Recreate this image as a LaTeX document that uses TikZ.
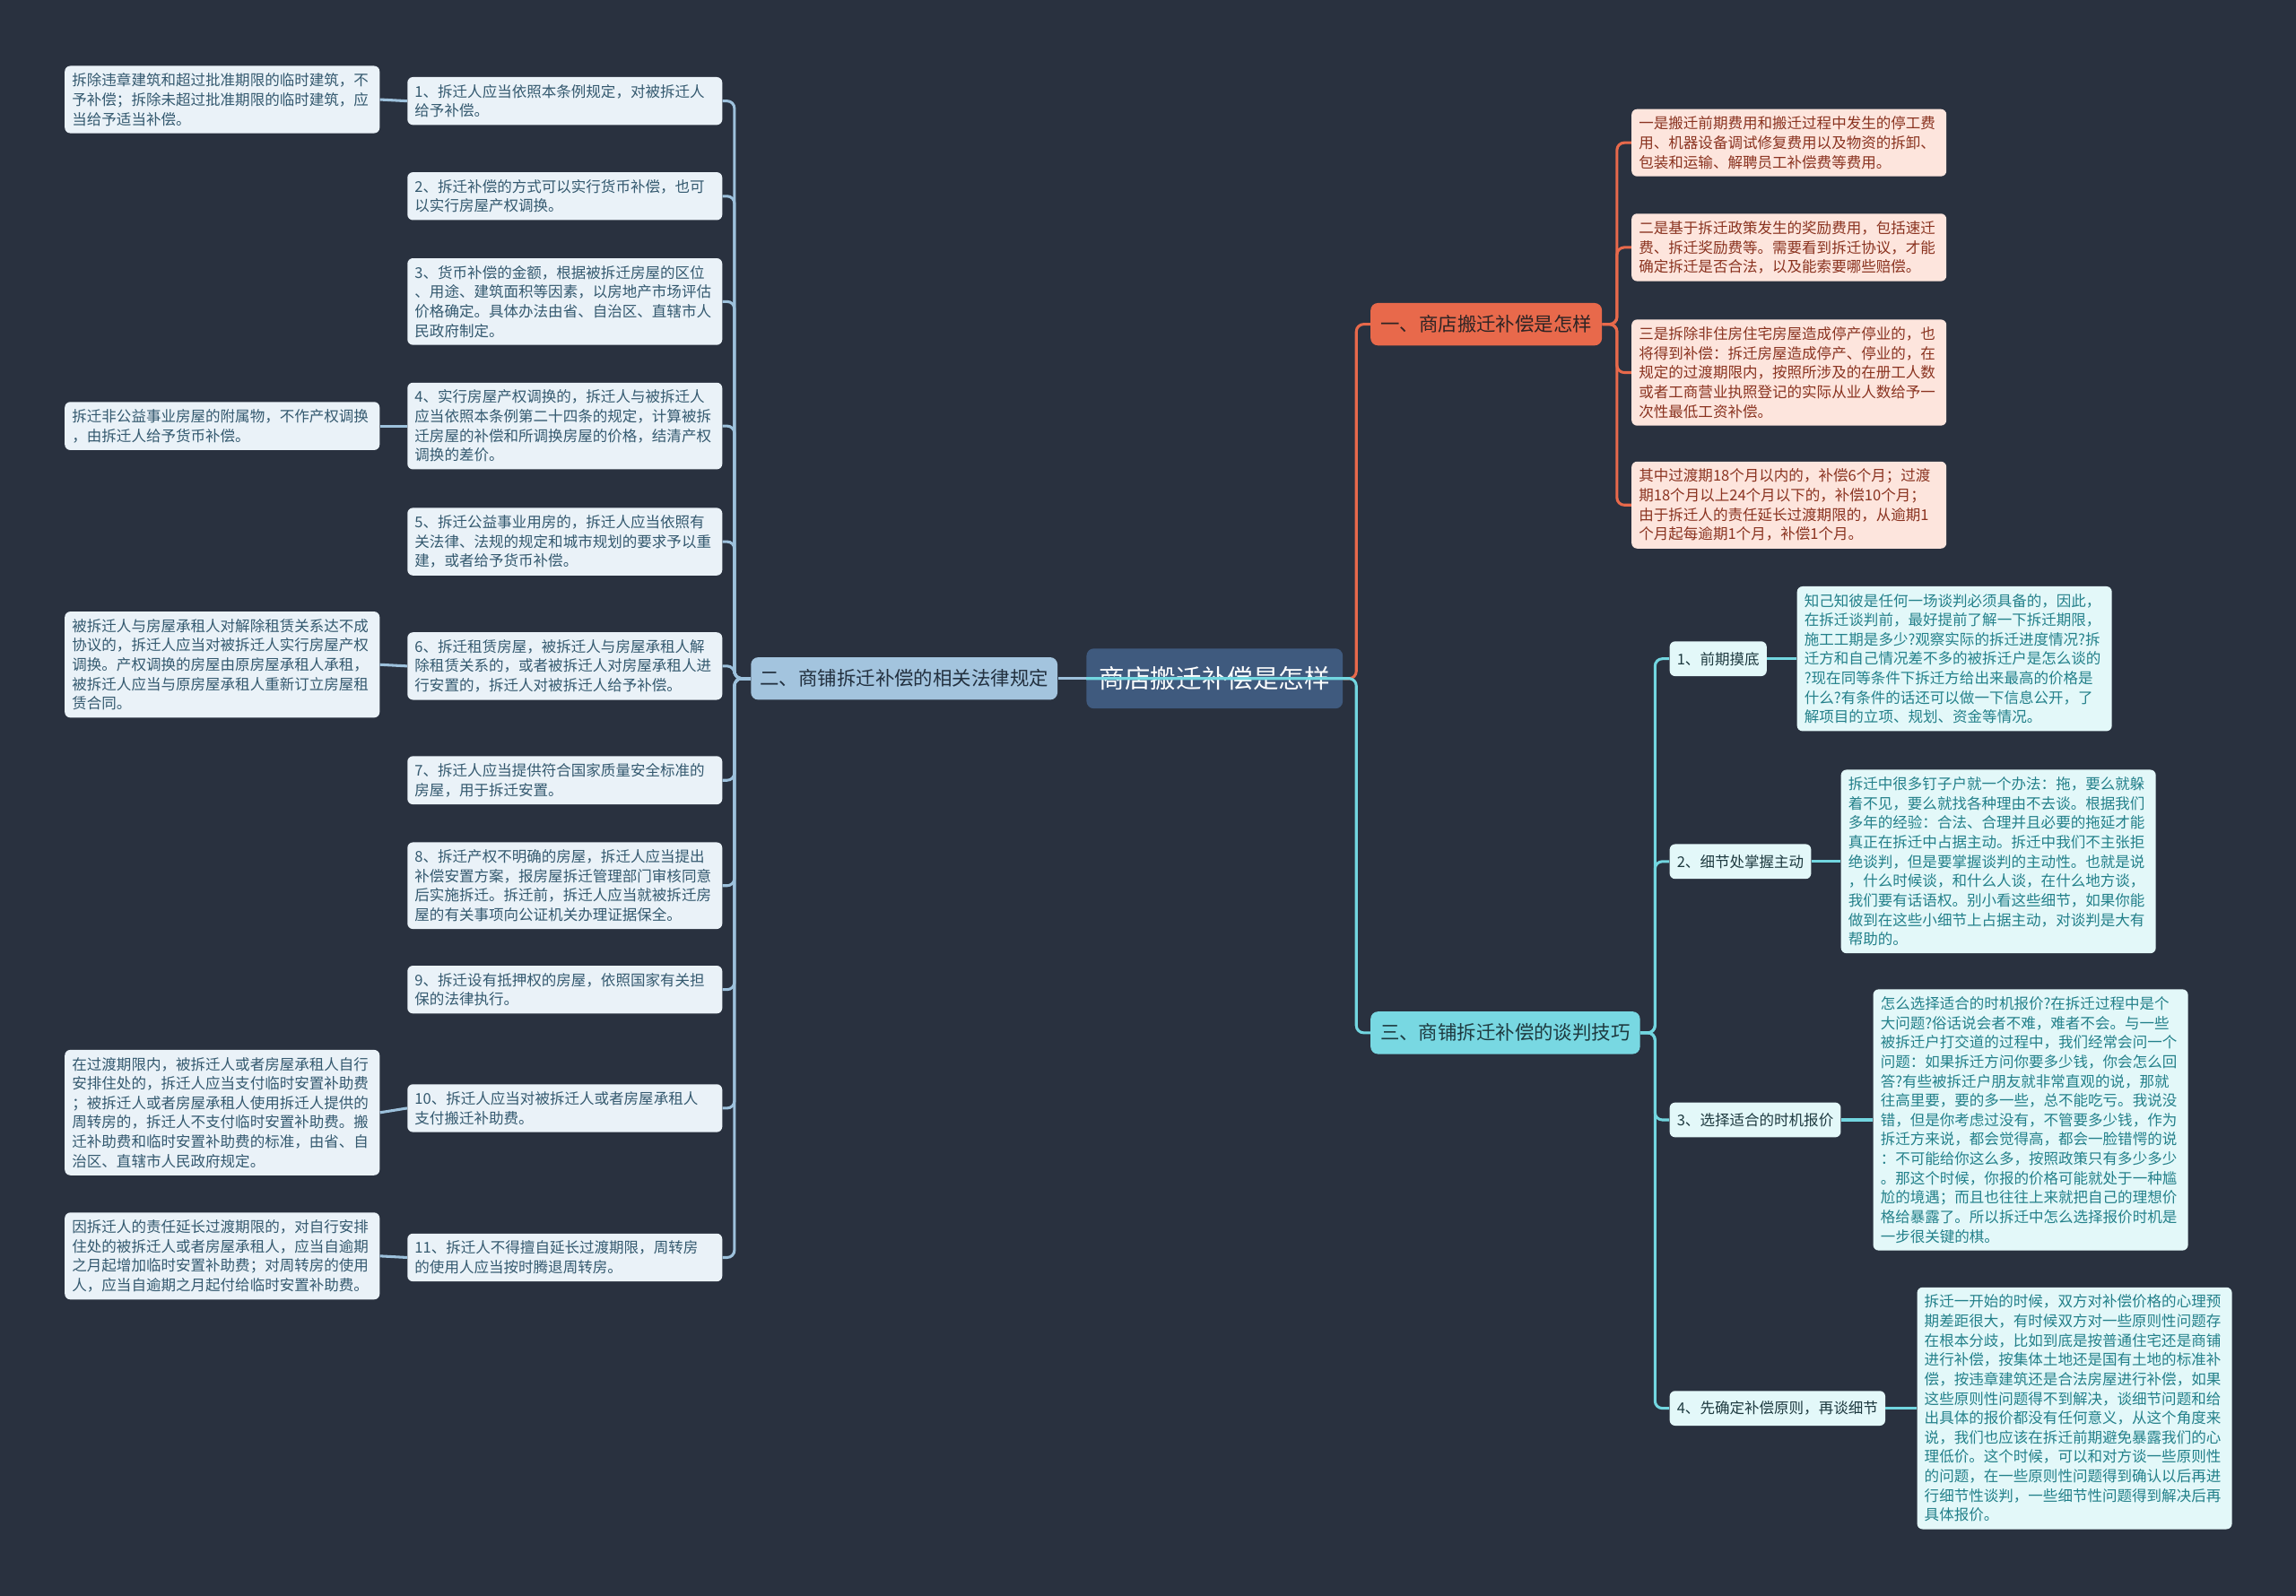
\documentclass[tikz,border=0pt]{standalone}
\usepackage{fontspec}
\setmainfont{Noto Sans CJK SC}

\definecolor{bgcol}{HTML}{29313F}
\definecolor{rootfill}{HTML}{3F5A7E}
\definecolor{lawmain}{HTML}{A3C4DE}
\definecolor{lawdark}{HTML}{22303F}
\definecolor{lawfill}{HTML}{EAF2F8}
\definecolor{lawtext}{HTML}{34596F}
\definecolor{lawline}{HTML}{9DC1DC}
\definecolor{costmain}{HTML}{E8694B}
\definecolor{costdark}{HTML}{2E2424}
\definecolor{costfill}{HTML}{FDE5DD}
\definecolor{costtext}{HTML}{8A3320}
\definecolor{tipmain}{HTML}{78D8E2}
\definecolor{tipdark}{HTML}{1E3A40}
\definecolor{tipfill}{HTML}{E3F8F9}
\definecolor{tiptext}{HTML}{23808A}
\definecolor{tipline}{HTML}{72D6E0}

\begin{document}
\begin{tikzpicture}[
    x=0.8pt, y=-0.8pt,
    font=\fontsize{8.1}{10.6}\selectfont,
    leaf/.style={rounded corners=3pt,align=left,text width=164pt,inner xsep=4pt,inner ysep=4pt,anchor=west},
    lawleaf/.style={leaf,fill=lawfill,text=lawtext},
    costleaf/.style={leaf,fill=costfill,text=costtext},
    tipleaf/.style={leaf,fill=tipfill,text=tiptext},
    topic/.style={rounded corners=4pt,font=\fontsize{10.5}{12}\selectfont,minimum height=23.2pt,inner xsep=5pt},
    tipbox/.style={rounded corners=3pt,fill=tipfill,text=tipdark,minimum height=19pt,inner xsep=4pt,anchor=west},
    lline/.style={draw=lawline,line width=1.5pt,rounded corners=4pt},
    oline/.style={draw=costmain,line width=1.5pt,rounded corners=4pt},
    cline/.style={draw=tipline,line width=1.5pt,rounded corners=4pt}
]
\fill[bgcol] (0,0) rectangle (1568,1090);
\path[use as bounding box] (0,0) rectangle (1568,1090);

% centre and the three topics
\node[fill=rootfill,text=white,rounded corners=4pt,font=\fontsize{14}{16}\selectfont,
      minimum width=140pt,minimum height=32.8pt] (root) at (829.5,463.5) {商店搬迁补偿是怎样};
\node[topic,fill=lawmain,text=lawdark,minimum width=167.2pt] (b2) at (617.5,463.5) {二、商铺拆迁补偿的相关法律规定};
\node[topic,fill=costmain,text=costdark,minimum width=126.4pt] (b1) at (1015,221.5) {一、商店搬迁补偿是怎样};
\node[topic,fill=tipmain,text=tipdark,minimum width=147.2pt] (b3) at (1028,705.5) {三、商铺拆迁补偿的谈判技巧};

% law items
\node[lawleaf] (m1) at (278,69) {1、拆迁人应当依照本条例规定，对被拆迁人\\给予补偿。};
\node[lawleaf] (m2) at (278,134) {2、拆迁补偿的方式可以实行货币补偿，也可\\以实行房屋产权调换。};
\node[lawleaf] (m3) at (278,206) {3、货币补偿的金额，根据被拆迁房屋的区位\\、用途、建筑面积等因素，以房地产市场评估\\价格确定。具体办法由省、自治区、直辖市人\\民政府制定。};
\node[lawleaf] (m4) at (278,291) {4、实行房屋产权调换的，拆迁人与被拆迁人\\应当依照本条例第二十四条的规定，计算被拆\\迁房屋的补偿和所调换房屋的价格，结清产权\\调换的差价。};
\node[lawleaf] (m5) at (278,370) {5、拆迁公益事业用房的，拆迁人应当依照有\\关法律、法规的规定和城市规划的要求予以重\\建，或者给予货币补偿。};
\node[lawleaf] (m6) at (278,455) {6、拆迁租赁房屋，被拆迁人与房屋承租人解\\除租赁关系的，或者被拆迁人对房屋承租人进\\行安置的，拆迁人对被拆迁人给予补偿。};
\node[lawleaf] (m7) at (278,533) {7、拆迁人应当提供符合国家质量安全标准的\\房屋，用于拆迁安置。};
\node[lawleaf] (m8) at (278,605) {8、拆迁产权不明确的房屋，拆迁人应当提出\\补偿安置方案，报房屋拆迁管理部门审核同意\\后实施拆迁。拆迁前，拆迁人应当就被拆迁房\\屋的有关事项向公证机关办理证据保全。};
\node[lawleaf] (m9) at (278,676) {9、拆迁设有抵押权的房屋，依照国家有关担\\保的法律执行。};
\node[lawleaf] (m10) at (278,757) {10、拆迁人应当对被拆迁人或者房屋承租人\\支付搬迁补助费。};
\node[lawleaf] (m11) at (278,859) {11、拆迁人不得擅自延长过渡期限，周转房\\的使用人应当按时腾退周转房。};

\node[lawleaf] (l1) at (44,68) {拆除违章建筑和超过批准期限的临时建筑，不\\予补偿；拆除未超过批准期限的临时建筑，应\\当给予适当补偿。};
\node[lawleaf] (l4) at (44,291) {拆迁非公益事业房屋的附属物，不作产权调换\\，由拆迁人给予货币补偿。};
\node[lawleaf] (l6) at (44,454) {被拆迁人与房屋承租人对解除租赁关系达不成\\协议的，拆迁人应当对被拆迁人实行房屋产权\\调换。产权调换的房屋由原房屋承租人承租，\\被拆迁人应当与原房屋承租人重新订立房屋租\\赁合同。};
\node[lawleaf] (l10) at (44,760) {在过渡期限内，被拆迁人或者房屋承租人自行\\安排住处的，拆迁人应当支付临时安置补助费\\；被拆迁人或者房屋承租人使用拆迁人提供的\\周转房的，拆迁人不支付临时安置补助费。搬\\迁补助费和临时安置补助费的标准，由省、自\\治区、直辖市人民政府规定。};
\node[lawleaf] (l11) at (44,858) {因拆迁人的责任延长过渡期限的，对自行安排\\住处的被拆迁人或者房屋承租人，应当自逾期\\之月起增加临时安置补助费；对周转房的使用\\人，应当自逾期之月起付给临时安置补助费。};

% cost items
\node[costleaf] (r1) at (1114,97.5) {一是搬迁前期费用和搬迁过程中发生的停工费\\用、机器设备调试修复费用以及物资的拆卸、\\包装和运输、解聘员工补偿费等费用。};
\node[costleaf] (r2) at (1114,169) {二是基于拆迁政策发生的奖励费用，包括速迁\\费、拆迁奖励费等。需要看到拆迁协议，才能\\确定拆迁是否合法，以及能索要哪些赔偿。};
\node[costleaf] (r3) at (1114,254.5) {三是拆除非住房住宅房屋造成停产停业的，也\\将得到补偿：拆迁房屋造成停产、停业的，在\\规定的过渡期限内，按照所涉及的在册工人数\\或者工商营业执照登记的实际从业人数给予一\\次性最低工资补偿。};
\node[costleaf] (r4) at (1114,345) {其中过渡期18个月以内的，补偿6个月；过渡\\期18个月以上24个月以下的，补偿10个月；\\由于拆迁人的责任延长过渡期限的，从逾期1\\个月起每逾期1个月，补偿1个月。};

% negotiation tips
\node[tipbox] (s1) at (1140,450) {1、前期摸底};
\node[tipbox] (s2) at (1140,588.5) {2、细节处掌握主动};
\node[tipbox] (s3) at (1140,765) {3、选择适合的时机报价};
\node[tipbox] (s4) at (1140,962) {4、先确定补偿原则，再谈细节};

\node[tipleaf] (t1) at (1227,450) {知己知彼是任何一场谈判必须具备的，因此，\\在拆迁谈判前，最好提前了解一下拆迁期限，\\施工工期是多少?观察实际的拆迁进度情况?拆\\迁方和自己情况差不多的被拆迁户是怎么谈的\\?现在同等条件下拆迁方给出来最高的价格是\\什么?有条件的话还可以做一下信息公开，了\\解项目的立项、规划、资金等情况。};
\node[tipleaf] (t2) at (1257,588.5) {拆迁中很多钉子户就一个办法：拖，要么就躲\\着不见，要么就找各种理由不去谈。根据我们\\多年的经验：合法、合理并且必要的拖延才能\\真正在拆迁中占据主动。拆迁中我们不主张拒\\绝谈判，但是要掌握谈判的主动性。也就是说\\，什么时候谈，和什么人谈，在什么地方谈，\\我们要有话语权。别小看这些细节，如果你能\\做到在这些小细节上占据主动，对谈判是大有\\帮助的。};
\node[tipleaf] (t3) at (1279,765) {怎么选择适合的时机报价?在拆迁过程中是个\\大问题?俗话说会者不难，难者不会。与一些\\被拆迁户打交道的过程中，我们经常会问一个\\问题：如果拆迁方问你要多少钱，你会怎么回\\答?有些被拆迁户朋友就非常直观的说，那就\\往高里要，要的多一些，总不能吃亏。我说没\\错，但是你考虑过没有，不管要多少钱，作为\\拆迁方来说，都会觉得高，都会一脸错愕的说\\：不可能给你这么多，按照政策只有多少多少\\。那这个时候，你报的价格可能就处于一种尴\\尬的境遇；而且也往往上来就把自己的理想价\\格给暴露了。所以拆迁中怎么选择报价时机是\\一步很关键的棋。};
\node[tipleaf] (t4) at (1309,962) {拆迁一开始的时候，双方对补偿价格的心理预\\期差距很大，有时候双方对一些原则性问题存\\在根本分歧，比如到底是按普通住宅还是商铺\\进行补偿，按集体土地还是国有土地的标准补\\偿，按违章建筑还是合法房屋进行补偿，如果\\这些原则性问题得不到解决，谈细节问题和给\\出具体的报价都没有任何意义，从这个角度来\\说，我们也应该在拆迁前期避免暴露我们的心\\理低价。这个时候，可以和对方谈一些原则性\\的问题，在一些原则性问题得到确认以后再进\\行细节性谈判，一些细节性问题得到解决后再\\具体报价。};

% connectors
\draw[lline] (root.west) -- (b2.east);
\foreach \i in {1,...,11}
    \draw[lline] (b2.west) -- ++(-11,0) |- (m\i.east);
\foreach \i in {1,4,6,10,11}
    \draw[lline] (l\i.east) -- (m\i.west);
\draw[oline] (root.east) -- ++(9,0) |- (b1.west);
\draw[cline] (root.west) -- (root.east) -- ++(9,0) |- (b3.west);
\foreach \i in {1,...,4}
    \draw[oline] (b1.east) -- ++(10,0) |- (r\i.west);
\foreach \i in {1,...,4} {
    \draw[cline] (b3.east) -- ++(10,0) |- (s\i.west);
    \draw[cline] (s\i.east) -- (t\i.west);
}
\end{tikzpicture}
\end{document}
